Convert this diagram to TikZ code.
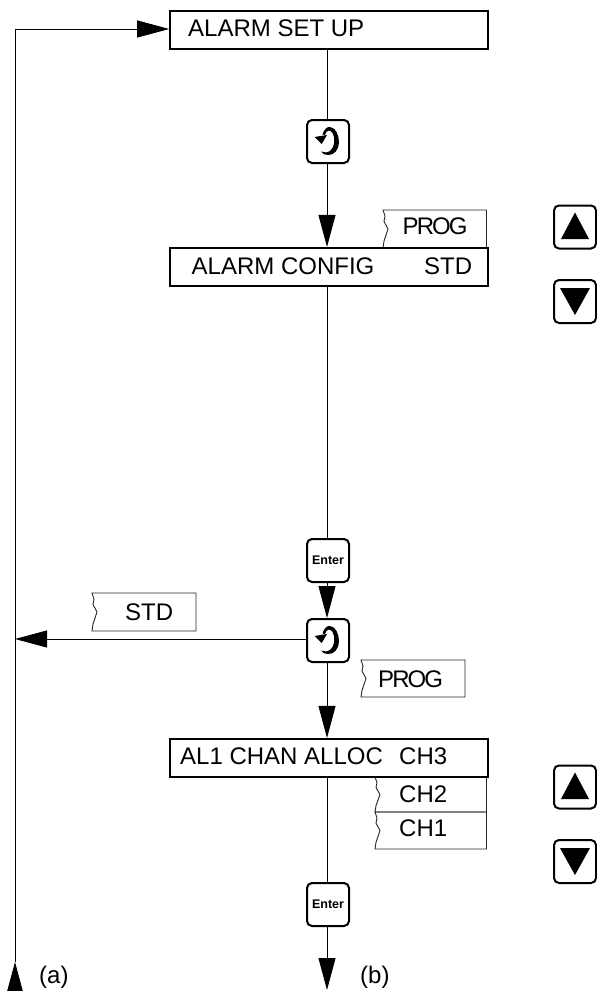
\documentclass[tikz,border=0pt]{standalone}
\usepackage{fontspec}
\setmainfont{Liberation Sans}
\newfontfamily\tightfont[LetterSpace=-8]{Liberation Sans}
\usetikzlibrary{arrows.meta}
\tikzset{
  x=1pt,y=-1pt,
  conn/.style={line width=.9pt,black},
  arr/.style={conn,-{Triangle[length=32pt,width=17pt]}},
  dbox/.style={draw=black,line width=2.2pt,inner sep=0pt,minimum width=318pt,minimum height=38pt},
  keybox/.style={draw=black,line width=2pt,rounded corners=5pt,inner sep=0pt,minimum width=42pt,minimum height=43pt,fill=white},
  lbl/.style={anchor=base west,inner sep=0pt,font=\fontsize{24}{28}\selectfont},
  tablbl/.style={anchor=base west,inner sep=0pt,font=\tightfont\fontsize{24}{28}\selectfont},
  tabline/.style={line width=.9pt,black!85},
}
% \torn{name}{x1}{y1}{x2}{y2}: a tab with a torn left edge
\newcommand{\torn}[5]{%
  \pgfmathsetmacro{\hh}{#5-#3}%
  \draw[tabline] (#2,#3) -- (#4,#3) -- (#4,#5) -- (#2,#5)
    -- (#2+1,#3+.82*\hh) -- (#2+5,#3+.5*\hh) -- (#2+1,#3+.3*\hh) -- (#2+2,#3+.16*\hh) -- cycle;
  \coordinate (#1) at (#2,#3);}
\newcommand{\cycleicon}[1]{%
  \begin{scope}[shift={(#1.center)}]
    \fill[black] (-5.5,-7) .. controls (-4,-12) and (-1,-15) .. (2,-14.5)
      .. controls (8,-14) and (11,-6) .. (11,1)
      .. controls (11,8) and (6,14) .. (0,13.5)
      .. controls (-3,13.5) and (-6,12.5) .. (-7,10)
      .. controls (-4,11) and (-1,11.5) .. (2,9.5)
      .. controls (7,6) and (7.5,-4) .. (4.5,-8.5)
      .. controls (2.5,-12) and (-1.5,-12) .. (-3,-6.5) -- cycle;
    \fill[black] (-13.5,-4.5) -- (-1,-6.5) -- (-6.3,2.5) -- cycle;
  \end{scope}}
\newcommand{\upicon}[1]{%
  \begin{scope}[shift={(#1.center)}]
    \fill[black] (-14,12) -- (14,12) -- (0,-14.5) -- cycle;
  \end{scope}}
\newcommand{\downicon}[1]{%
  \begin{scope}[shift={(#1.center)}]
    \fill[black] (-15,-13.5) -- (15,-13.5) -- (0,13.5) -- cycle;
  \end{scope}}
\begin{document}
\begin{tikzpicture}
\useasboundingbox (0,0) rectangle (597,991);
\coordinate (spine) at (327,0);

% tabs
\torn{tabprog}{383}{210}{486.5}{248}
\torn{tabstd}{92}{593}{196}{631}
\torn{tabprogb}{361}{660}{465}{697}
\torn{tabch2}{375}{777}{486.5}{812}
\torn{tabch1}{375}{812}{486.5}{849}

% display boxes
\node[dbox] (box1) at (329.3,29.75) {};
\node[dbox] (box2) at (329.3,267) {};
\node[dbox] (box3) at (329.3,758) {};

% keys
\node[keybox] (cyc1) at (328,141.5) {};
\node[keybox] (ent1) at (328,560.5) {\fontsize{12.5}{14}\selectfont\bfseries Enter};
\node[keybox] (cyc2) at (328,640.5) {};
\node[keybox] (ent2) at (328,904.5) {\fontsize{12.5}{14}\selectfont\bfseries Enter};
\node[keybox] (up1) at (575,227) {};
\node[keybox] (dn1) at (575,301.5) {};
\node[keybox] (up2) at (575,787) {};
\node[keybox] (dn2) at (575,861.5) {};
\cycleicon{cyc1}
\cycleicon{cyc2}
\upicon{up1}
\downicon{dn1}
\upicon{up2}
\downicon{dn2}

% free ends
\coordinate (corner) at (15,29);
\coordinate (abase) at (15,994);
\coordinate (atip) at (15,962);
\coordinate (junction) at (15,639);
\coordinate (btip) at (327,990);

% connectors
\draw[arr] (corner) -- (box1.west |- corner);
\draw[conn] (corner) -- (atip);
\draw[arr] (abase) -- (atip);
\draw[conn] (box1.south -| spine) -- (cyc1.north -| spine);
\draw[arr] (cyc1.south -| spine) -- (box2.north -| spine);
\draw[conn] (box2.south -| spine) -- (ent1.north -| spine);
\draw[arr] (ent1.south -| spine) -- (cyc2.north -| spine);
\draw[arr] (cyc2.west |- junction) -- (junction);
\draw[arr] (cyc2.south -| spine) -- (box3.north -| spine);
\draw[conn] (box3.south -| spine) -- (ent2.north -| spine);
\draw[arr] (ent2.south -| spine) -- (btip);

% texts
\node[lbl] (t1) at (188,36) {ALARM SET UP};
\node[lbl] (t2) at (191.5,274) {ALARM CONFIG};
\node[lbl] (t3) at (424,274) {STD};
\node[tablbl] (t4) at (402.5,234) {PROG};
\node[lbl] (t5) at (125,620) {STD};
\node[tablbl] (t6) at (378,687) {PROG};
\node[lbl] (t7) at (180,764) {AL1 CHAN ALLOC};
\node[lbl] (t8) at (399,764) {CH3};
\node[lbl] (t9) at (399,802) {CH2};
\node[lbl] (t10) at (399,836) {CH1};
\node[lbl] (t11) at (39,983) {(a)};
\node[lbl] (t12) at (360,983) {(b)};
\end{tikzpicture}
\end{document}
